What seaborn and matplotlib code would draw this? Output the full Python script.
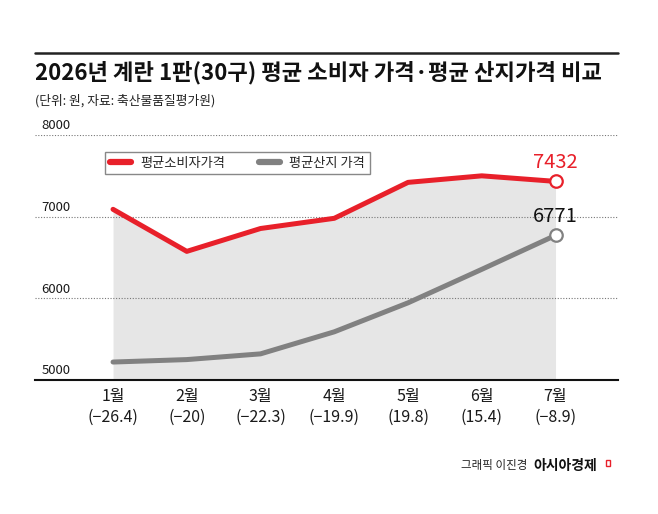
import numpy as np
import pandas as pd
import seaborn as sns
import matplotlib.pyplot as plt
from matplotlib.lines import Line2D
from matplotlib.patches import Rectangle
import matplotlib.transforms as mtransforms

# chart data (won)
months = ["1월", "2월", "3월", "4월", "5월", "6월", "7월"]
yoy_change = [-26.4, -20, -22.3, -19.9, 19.8, 15.4, -8.9]
consumer_price = [7090, 6575, 6855, 6980, 7420, 7500, 7432]
farm_price = [5220, 5250, 5320, 5590, 5945, 6355, 6771]
series_names = ["평균소비자가격", "평균산지 가격"]
y_ticks = [5000, 6000, 7000, 8000]

title = "2026년 계란 1판(30구) 평균 소비자 가격·평균 산지가격 비교"
subtitle = "(단위: 원, 자료: 축산물품질평가원)"

RED = "#e8202a"
GRAY = "#818181"
FILL = "#e6e6e6"

sns.set_theme(style="white")
plt.rcParams["font.family"] = ["Noto Sans CJK KR", "DejaVu Sans"]

W, H = 658, 514
fig = plt.figure(figsize=(W / 100, H / 100), dpi=100)
ax = fig.add_axes([35 / W, 1 - 380 / H, 583 / W, 245 / H])

idx = np.arange(len(months))
df = pd.DataFrame({
    "idx": np.concatenate([idx, idx]),
    "price": consumer_price + farm_price,
    "series": [series_names[0]] * len(idx) + [series_names[1]] * len(idx),
})

ax.fill_between(idx, consumer_price, y_ticks[0], color=FILL, lw=0, zorder=0)
sns.lineplot(data=df, x="idx", y="price", hue="series",
             palette=[RED, GRAY], linewidth=3.6, ax=ax, legend=True,
             solid_capstyle="round", zorder=3)

# open circles at the last month
ax.plot(idx[-1], consumer_price[-1], "o", ms=9, mfc="white", mec=RED, mew=1.6, zorder=4)
ax.plot(idx[-1], farm_price[-1], "o", ms=9, mfc="white", mec=GRAY, mew=1.6, zorder=4)
ax.annotate(f"{consumer_price[-1]}", (idx[-1], consumer_price[-1]), xytext=(0, 6),
            textcoords="offset points", ha="center", va="bottom", fontsize=14.5, color=RED)
ax.annotate(f"{farm_price[-1]}", (idx[-1], farm_price[-1]), xytext=(0, 6),
            textcoords="offset points", ha="center", va="bottom", fontsize=14.5, color="#111")

ax.set_xlim(-1.058, 6.847)
ax.set_ylim(y_ticks[0], y_ticks[-1])
ax.set_xlabel("")
ax.set_ylabel("")

# dotted gridlines with labels sitting above them
ax.set_yticks(y_ticks)
ax.yaxis.grid(True, linestyle=(0, (1, 1.5)), color="#777", linewidth=0.8)
ax.tick_params(axis="y", length=0, labelleft=False)
trans = mtransforms.blended_transform_factory(ax.transAxes, ax.transData)
for v in y_ticks:
    ax.annotate(f"{v}", (0.011, v), xycoords=trans, xytext=(0, 2),
                textcoords="offset points", ha="left", va="bottom",
                fontsize=9.5, color="#1a1a1a")

ax.set_xticks(idx)
labels = [f"{m}\n({v:g})".replace("-", "−") for m, v in zip(months, yoy_change)]
ax.set_xticklabels(labels, fontsize=11.5, color="#1a1a1a", linespacing=1.3)
ax.tick_params(axis="x", direction="in", length=6, width=1, color="#555", pad=6)

for s in ["top", "right", "left"]:
    ax.spines[s].set_visible(False)
ax.spines["bottom"].set_color("#111")
ax.spines["bottom"].set_linewidth(1.5)

handles = [Line2D([], [], color=RED, lw=4.5, solid_capstyle="round"),
           Line2D([], [], color=GRAY, lw=4.5, solid_capstyle="round")]
ax.legend(handles, series_names, loc="upper left", bbox_to_anchor=(105 / W, 1 - 152 / H),
          bbox_transform=fig.transFigure, ncol=2, fontsize=9.5, frameon=True, fancybox=False,
          edgecolor="#888", framealpha=1, handlelength=1.6, handletextpad=0.7,
          columnspacing=2.6, borderpad=0.35, borderaxespad=0)

# header
fig.add_artist(Line2D([35 / W, 618 / W], [1 - 52.7 / H] * 2, color="#222", lw=1.8))
fig.text(35 / W, 1 - 73 / H, title, fontsize=16, fontweight="bold", va="center", color="#111")
fig.text(35 / W, 1 - 101 / H, subtitle, fontsize=9.2, va="center", color="#222")

# footer
fig.text(527 / W, 1 - 466 / H, "그래픽 이진경", fontsize=8.3, ha="right", va="center", color="#222")
fig.text(533 / W, 1 - 466 / H, "아시아경제", fontsize=10, fontweight="bold", ha="left", va="center", color="#111")
fig.add_artist(Rectangle((606 / W, 1 - 466 / H), 4 / W, 6 / H, fill=False, edgecolor=RED, lw=1))

fig.savefig("out.png", dpi=100)
